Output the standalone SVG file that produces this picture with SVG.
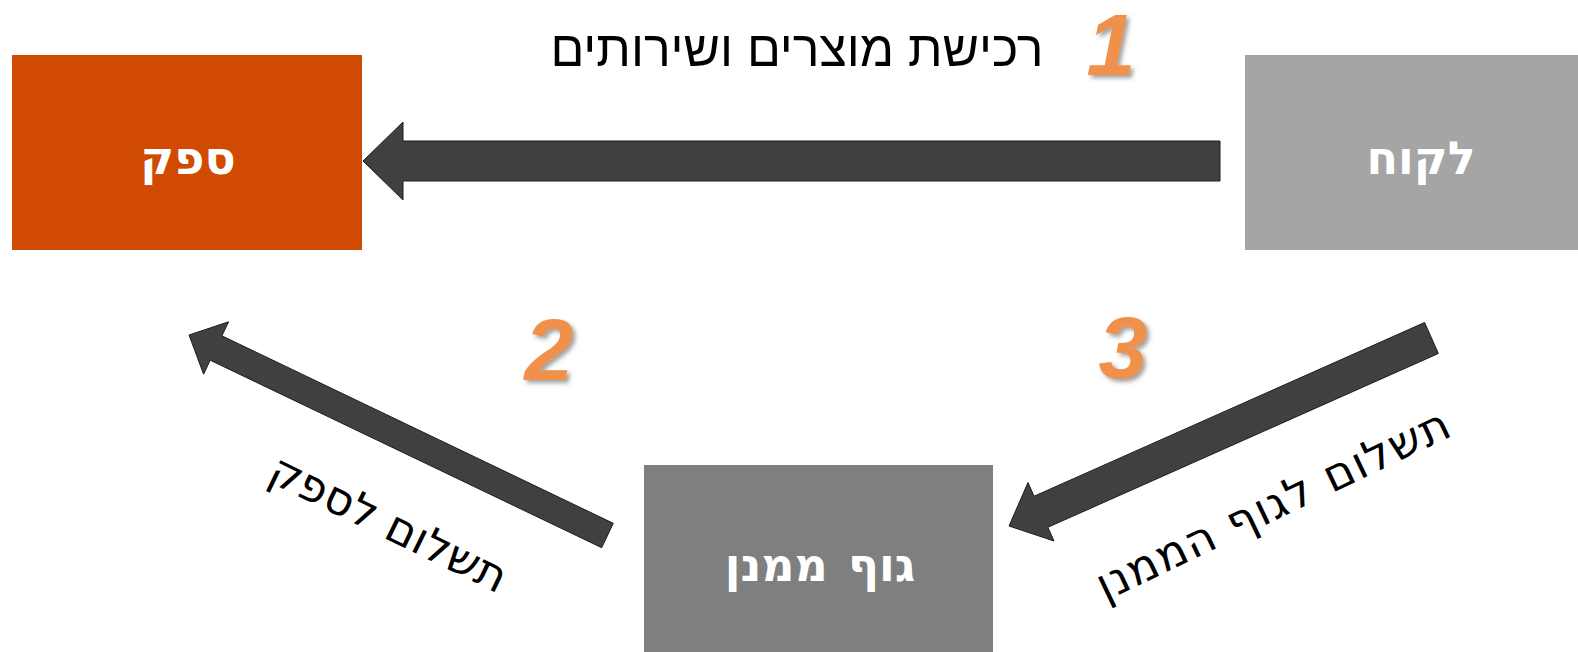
<svg xmlns="http://www.w3.org/2000/svg" width="1578" height="652" viewBox="0 0 1578 652">
  <defs>
    <filter id="numShadow" filterUnits="userSpaceOnUse" x="0" y="0" width="1578" height="652">
      <feDropShadow dx="3" dy="3" stdDeviation="2" flood-color="#555555" flood-opacity="0.55"/>
    </filter>
  </defs>
  <style>
    .box-label { font-family: "DejaVu Sans", sans-serif; font-weight: bold; font-size: 46px; fill: #ffffff; text-anchor: middle; }
    .flow-label { font-family: "DejaVu Sans", sans-serif; font-size: 45px; fill: #000000; text-anchor: middle; }
    .title { font-family: "Liberation Sans", Arial, sans-serif; font-size: 50px; fill: #000000; text-anchor: middle; }
    .step { font-family: "Liberation Sans", Arial, sans-serif; font-weight: bold; font-style: italic; font-size: 88px; fill: #F0914C; text-anchor: middle; }
    .arrow { fill: #404040; stroke: #1e1e1e; stroke-width: 1; stroke-linejoin: miter; }
  </style>

  <rect width="1578" height="652" fill="#ffffff"/>

  <!-- supplier -->
  <g id="supplier">
    <rect x="12" y="55" width="350" height="195" fill="#D04A02"/>
    <text class="box-label" x="188" y="174" direction="rtl">ספק</text>
  </g>

  <!-- customer -->
  <g id="customer">
    <rect x="1245" y="55" width="333" height="195" fill="#A5A5A5"/>
    <text class="box-label" x="1421" y="174" direction="rtl">לקוח</text>
  </g>

  <!-- financing body -->
  <g id="financer">
    <rect x="644" y="465" width="349" height="187" fill="#7F7F7F"/>
    <text class="box-label" x="820" y="581" direction="rtl" word-spacing="4">גוף ממנן</text>
  </g>

  <!-- flows -->
  <g id="connectors">
    <polygon class="arrow" points="1220,141 403,141 403,122 363,161 403,200 403,181 1220,181"/>
    <polygon class="arrow" points="613.3,523.3 221.9,335.8 228.6,321.8 189,335 203.6,374.2 210.2,360.2 601.7,547.7"/>
    <polygon class="arrow" points="1424.6,322.5 1034.1,496.2 1028,482.5 1009,526 1054,541 1047.9,527.3 1438.4,353.5"/>
  </g>

  <!-- flow labels -->
  <g id="labels">
    <text class="title" x="797" y="66" direction="rtl">רכישת מוצרים ושירותים</text>
    <text class="flow-label" transform="translate(382,537) rotate(26)" direction="rtl">תשלום לספק</text>
    <text class="flow-label" transform="translate(1280,518) rotate(-25.5)" direction="rtl" letter-spacing="1.5">תשלום לגוף הממנן</text>
  </g>

  <!-- step numbers -->
  <g id="steps" filter="url(#numShadow)">
    <text class="step" x="1111" y="75">1</text>
    <text class="step" x="549" y="380">2</text>
    <text class="step" x="1123" y="378">3</text>
  </g>
</svg>
